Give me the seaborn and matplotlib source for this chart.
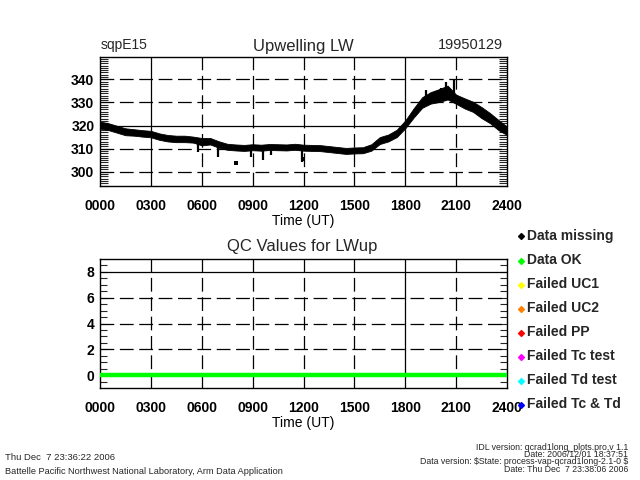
import numpy as np
import pandas as pd
import matplotlib
matplotlib.use("Agg")
import matplotlib.pyplot as plt
from matplotlib.lines import Line2D
import seaborn as sns

# ---------------- data ----------------
hours = [0.0, 0.5, 1.0, 1.5, 2.0, 2.5, 3.0, 3.5, 4.0, 4.5, 5.0, 5.5, 6.0, 6.5,
         7.0, 7.5, 8.0, 8.5, 9.0, 9.5, 10.0, 10.5, 11.0, 11.5, 12.0, 12.5, 13.0,
         13.5, 14.0, 14.5, 15.0, 15.5, 16.0, 16.5, 17.0, 17.5, 18.0, 18.5, 19.0,
         19.5, 20.0, 20.5, 21.0, 21.5, 22.0, 22.5, 23.0, 23.5, 24.0]
lw_up = [320.2, 319.5, 318.4, 317.3, 317.0, 316.6, 316.3, 315.2, 314.5, 314.2,
         314.2, 313.9, 313.0, 313.2, 311.8, 310.8, 310.5, 310.3, 310.6, 310.4,
         310.7, 310.6, 310.5, 310.8, 310.4, 310.3, 310.2, 309.8, 309.4, 309.0,
         309.2, 309.3, 310.5, 313.5, 314.6, 316.6, 320.5, 325.5, 330.0, 332.0,
         333.0, 334.3, 331.4, 329.6, 328.1, 325.6, 323.2, 320.2, 317.7]
band_half = [1.5, 1.5, 1.5, 1.5, 1.4, 1.4, 1.4, 1.4, 1.4, 1.4, 1.4, 1.3, 1.6, 1.4,
             1.4, 1.3, 1.3, 1.3, 1.3, 1.3, 1.3, 1.3, 1.3, 1.3, 1.3, 1.3, 1.3, 1.3,
             1.3, 1.3, 1.3, 1.3, 1.4, 1.5, 1.5, 1.6, 1.7, 2.0, 2.3, 2.5, 2.8, 3.0,
             2.0, 2.2, 2.2, 2.4, 2.2, 2.2, 1.8]
spike_hours = [5.78, 6.96, 8.9, 9.6, 10.1, 11.9, 19.2, 20.1, 20.4, 20.85]
spike_low = [308.7, 306.5, 306.5, 305.1, 307.2, 304.3, 331.0, 332.0, 334.0, 334.0]
spike_high = [313.5, 311.5, 310.5, 310.5, 310.5, 310.5, 335.4, 336.1, 339.0, 339.7]
outlier_hours = [8.0, 11.95]
outlier_vals = [303.8, 305.3]

qc_hours = [0.0, 24.0]
qc_vals = [0, 0]

x_ticks = [0, 3, 6, 9, 12, 15, 18, 21, 24]
x_labels = ["0000", "0300", "0600", "0900", "1200", "1500", "1800", "2100", "2400"]
top_yticks = [300, 310, 320, 330, 340]
qc_yticks = [0, 2, 4, 6, 8]

legend_labels = ["Data missing", "Data OK", "Failed UC1", "Failed UC2",
                 "Failed PP", "Failed Tc test", "Failed Td test", "Failed Tc & Td"]
legend_colors = ["#000000", "#00ff00", "#ffff00", "#ff8000",
                 "#ff0000", "#ff00ff", "#00ffff", "#0000ff"]

# ---------------- style ----------------
sns.set_theme(style="white")
plt.rcParams["font.family"] = ["Liberation Sans", "DejaVu Sans"]

W, H = 640, 480
fig = plt.figure(figsize=(6.4, 4.8), dpi=100)
fig.patch.set_facecolor("white")

def fx(px):
    return px / W

def fy(py):
    return 1 - py / H

ax1 = fig.add_axes([fx(100), fy(186), fx(407), 129 / H])
ax2 = fig.add_axes([fx(100), fy(388), fx(407), 129 / H])

DASH = (0, (11, 4.5))

def style_axis(ax, ylim, yticks, minor_step, minor_len, solid_x, solid_y):
    ax.set_xlim(0, 24)
    ax.set_ylim(*ylim)
    ax.set_facecolor("white")
    for s in ax.spines.values():
        s.set_color("black")
        s.set_linewidth(1.0)
    for xv in x_ticks[1:-1]:
        ax.axvline(xv, color="black", lw=0.9,
                   ls="-" if xv in solid_x else DASH, zorder=1)
    for yv in yticks:
        if yv == 0:
            continue
        ax.axhline(yv, color="black", lw=0.9,
                   ls="-" if yv in solid_y else DASH, zorder=1)
    ax.set_xticks(x_ticks)
    ax.set_xticklabels(x_labels)
    ax.set_yticks(yticks)
    ax.set_yticks(np.arange(ylim[0] - ylim[0] % minor_step + minor_step, ylim[1], minor_step), minor=True)
    ax.tick_params(axis="x", which="both", length=0, pad=9, labelsize=10,
                   labelcolor="black")
    ax.tick_params(axis="y", which="major", direction="in", left=True, right=True,
                   length=minor_len, width=0.8, pad=4, labelsize=10, labelcolor="black")
    ax.tick_params(axis="y", which="minor", direction="in", left=True, right=True,
                   length=minor_len, width=0.8)
    for lab in ax.get_xticklabels() + ax.get_yticklabels():
        lab.set_fontweight("bold")
    ax.set_xlabel("Time (UT)", fontsize=10, color="black", labelpad=1)
    ax.set_ylabel("")
    ax.grid(False)

# ---------------- top panel ----------------
df = pd.DataFrame({"hour": hours, "lw": lw_up, "hw": band_half})
lo = df["lw"] - df["hw"]
hi = df["lw"] + df["hw"]
ax1.fill_between(df["hour"], lo, hi, color="black", lw=0.6, zorder=3)
sns.lineplot(data=df, x="hour", y="lw", ax=ax1, color="black", lw=1.0, zorder=3)
ax1.vlines(spike_hours, spike_low, spike_high, color="black", lw=1.6, zorder=3)
sns.scatterplot(x=outlier_hours, y=outlier_vals, ax=ax1, color="black",
                marker="s", s=8, linewidth=0, zorder=3)
style_axis(ax1, (293.8, 349.7), top_yticks, 1, 6, solid_x=[3, 18], solid_y=[320])

# ---------------- bottom panel ----------------
sns.lineplot(x=qc_hours, y=qc_vals, ax=ax2, color="#00ff00", lw=3.2, zorder=3)
style_axis(ax2, (-1, 9), qc_yticks, 0.5, 5, solid_x=[18], solid_y=[8])

# ---------------- titles ----------------
fig.text(fx(101), fy(45), "sqpE15", fontsize=10, ha="left", va="center")
fig.text(fx(303), fy(46), "Upwelling LW", fontsize=12, ha="center", va="center")
fig.text(fx(503), fy(45), "19950129", fontsize=10.5, ha="right", va="center")
fig.text(fx(302), fy(247), "QC Values for LWup", fontsize=12, ha="center", va="center")

# ---------------- legend ----------------
leg_y = [236, 260.5, 284.5, 308.5, 332.5, 356.5, 380.5, 404.5]
for lab, col, yy in zip(legend_labels, legend_colors, leg_y):
    fig.add_artist(Line2D([fx(521)], [fy(yy)], marker="D", markersize=3,
                          color=col, markeredgecolor=col, transform=fig.transFigure))
    fig.text(fx(527), fy(yy), lab, fontsize=10, fontweight="bold",
             ha="left", va="center")

# ---------------- footer ----------------
fig.text(fx(5), fy(457), "Thu Dec  7 23:36:22 2006", fontsize=6.8, ha="left", va="center")
fig.text(fx(5), fy(471), "Battelle Pacific Northwest National Laboratory, Arm Data Application",
         fontsize=6.6, ha="left", va="center")
fig.text(fx(628), fy(447), "IDL version: qcrad1long_plots.pro,v 1.1", fontsize=6.3, ha="right", va="center")
fig.text(fx(628), fy(454.5), "Date: 2006/12/01 18:37:51", fontsize=6.3, ha="right", va="center")
fig.text(fx(628), fy(462), "Data version: \\$State: process-vap-qcrad1long-2.1-0 \\$", fontsize=6.3,
         ha="right", va="center")
fig.text(fx(628), fy(469.5), "Date: Thu Dec  7 23:38:06 2006", fontsize=6.3, ha="right", va="center")

fig.savefig("out.png", dpi=100, facecolor="white")
